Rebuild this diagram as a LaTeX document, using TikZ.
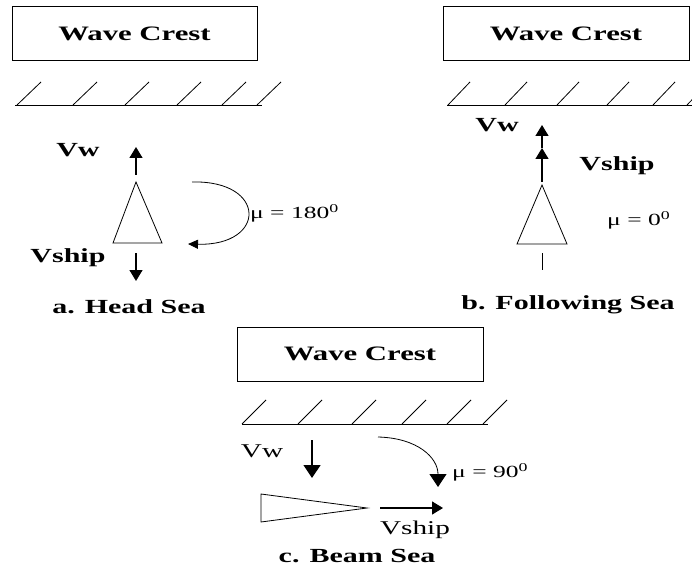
\documentclass[tikz,border=0pt]{standalone}
\usepackage{fontspec}
\usepackage{graphicx}
\setmainfont{Liberation Serif}
\usetikzlibrary{arrows.meta}
\newcommand{\wide}[1]{\scalebox{1.5}[1]{#1}}
\tikzset{
  crestbox/.style={draw, line width=1pt, minimum width=245pt, minimum height=54pt, inner sep=0pt,
    font=\bfseries\fontsize{20.5}{22}\selectfont},
  boldlbl/.style={inner sep=0pt, font=\bfseries\fontsize{20}{22}\selectfont},
  reglbl/.style={inner sep=0pt, font=\fontsize{19.5}{21}\selectfont},
  mulbl/.style={inner sep=0pt, anchor=west, font=\fontsize{17}{19}\selectfont},
  hatchline/.style={line width=0.8pt},
  hull/.style={line width=0.8pt},
  vec/.style={line width=1.3pt, -{Triangle[length=11pt,width=13pt]}},
  bigvec/.style={line width=1.3pt, -{Triangle[length=13pt,width=17pt]}},
  turn/.style={line width=0.8pt, -{Triangle[length=10pt,width=9pt]}},
}
\begin{document}
\begin{tikzpicture}[x=1pt,y=-1pt]
\useasboundingbox (0,0) rectangle (692,569);

% ---------- a. Head Sea ----------
\node[crestbox] (boxa) at (134.5,34) {\wide{Wave Crest}};
\draw[hatchline] (15,105) -- (262,105);
\foreach \x in {17,73,125,177,222,257}
  \draw[hatchline] (\x,105) -- ++(24,-23);
\node[boldlbl] (vwa) at (78,150) {\wide{Vw}};
\coordinate (vwa0) at (136,175);
\coordinate (vwa1) at (136,147);
\draw[vec] (vwa0) -- (vwa1);
\coordinate (sa1) at (136,182);
\coordinate (sa2) at (113,243);
\coordinate (sa3) at (162,243);
\draw[hull] (sa1) -- (sa2) -- (sa3) -- cycle;
\coordinate (ta0) at (192,182);
\coordinate (ta1) at (188,244);
\draw[turn] (ta0) .. controls (267,180) and (267,246) .. (ta1);
\node[mulbl] (mua) at (250,213) {\wide{μ = 180\textsuperscript{0}}};
\node[boldlbl] (vsa) at (68,258) {\wide{Vship}};
\coordinate (va0) at (136,253);
\coordinate (va1) at (136,281);
\draw[vec] (va0) -- (va1);
\node[boldlbl] (capa) at (129,307) {\wide{a. Head Sea}};

% ---------- b. Following Sea ----------
\node[crestbox, minimum width=246pt] (boxb) at (566,34) {\wide{Wave Crest}};
\draw[hatchline] (447,105) -- (692,105);
\foreach \x in {448,505,557,607,653,687}
  \draw[hatchline] (\x,105) -- ++(22,-23);
\node[boldlbl] (vwb) at (497,125) {\wide{Vw}};
\coordinate (vb0) at (542,182);
\coordinate (vb1) at (542,148);
\coordinate (vb2) at (542,125);
\draw[vec] (vb0) -- (vb1);
\draw[vec] (vb1) -- (vb2);
\node[boldlbl] (vsb) at (617,166) {\wide{Vship}};
\coordinate (sb1) at (542,185);
\coordinate (sb2) at (517,244);
\coordinate (sb3) at (567,244);
\draw[hull] (sb1) -- (sb2) -- (sb3) -- cycle;
\node[mulbl] (mub) at (607,220) {\wide{μ = 0\textsuperscript{0}}};
\coordinate (wb0) at (542,253);
\coordinate (wb1) at (542,270);
\draw[line width=1pt] (wb0) -- (wb1);
\node[boldlbl] (capb) at (568,305) {\wide{b. Following Sea}};

% ---------- c. Beam Sea ----------
\node[crestbox, minimum width=246pt] (boxc) at (360,354) {\wide{Wave Crest}};
\draw[hatchline] (242,424) -- (488,424);
\foreach \x in {242,298,352,402,447,483}
  \draw[hatchline] (\x,424) -- ++(24,-24);
\node[reglbl] (vwc) at (262,451) {\wide{Vw}};
\coordinate (vc0) at (312,440);
\coordinate (vc1) at (312,478);
\draw[bigvec] (vc0) -- (vc1);
\coordinate (tc0) at (378,437);
\coordinate (tc1) at (438,487);
\draw[line width=0.8pt, -{Triangle[length=13pt,width=17pt]}] (tc0) .. controls (418,438) and (438,458) .. (tc1);
\node[mulbl] (muc) at (452,472) {\wide{μ = 90\textsuperscript{0}}};
\coordinate (sc1) at (261,494);
\coordinate (sc2) at (261,522);
\coordinate (sc3) at (367,508);
\draw[hull] (sc1) -- (sc2) -- (sc3) -- cycle;
\coordinate (hc0) at (380,508);
\coordinate (hc1) at (443,508);
\draw[vec] (hc0) -- (hc1);
\node[reglbl] (vsc) at (415,530) {\wide{Vship}};
\node[boldlbl] (capc) at (357,556) {\wide{c. Beam Sea}};
\end{tikzpicture}
\end{document}
